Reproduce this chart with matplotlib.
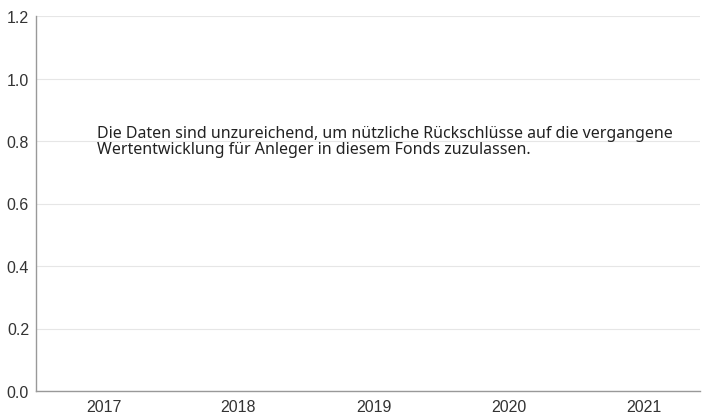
import matplotlib
matplotlib.use("Agg")
import matplotlib.pyplot as plt

years = ["2017", "2018", "2019", "2020", "2021"]
returns = [None, None, None, None, None]  # no data shown
y_ticks = [0.0, 0.2, 0.4, 0.6, 0.8, 1.0, 1.2]
message = ("Die Daten sind unzureichend, um nützliche Rückschlüsse auf die vergangene\n"
           "Wertentwicklung für Anleger in diesem Fonds zuzulassen.")

plt.rcParams["font.family"] = ["Liberation Sans", "DejaVu Sans"]

fig = plt.figure(figsize=(7.02, 4.14), dpi=100)
ax = fig.add_axes([36 / 702, 22 / 414, 664 / 702, 375 / 414])

x = list(range(len(years)))
ax.set_xlim(-0.5, 4.419)
ax.set_ylim(0, 1.2)
ax.set_xticks(x, years)
ax.set_yticks(y_ticks, [f"{v:.1f}" for v in y_ticks])

ax.grid(axis="y", color="#e6e6e6", linewidth=0.8)
ax.set_axisbelow(True)
for side in ("top", "right"):
    ax.spines[side].set_visible(False)
for side in ("left", "bottom"):
    ax.spines[side].set_color("#999999")
    ax.spines[side].set_linewidth(1.0)
ax.tick_params(length=0, labelsize=11.5, labelcolor="#333333", pad=5)
ax.tick_params(axis="x", pad=6)

ax.text(-0.047, 0.85, message, fontsize=11.5, family=["Noto Sans", "DejaVu Sans"],
        color="#222222", va="top", ha="left", linespacing=0.95)

fig.savefig("out.png", dpi=100)
